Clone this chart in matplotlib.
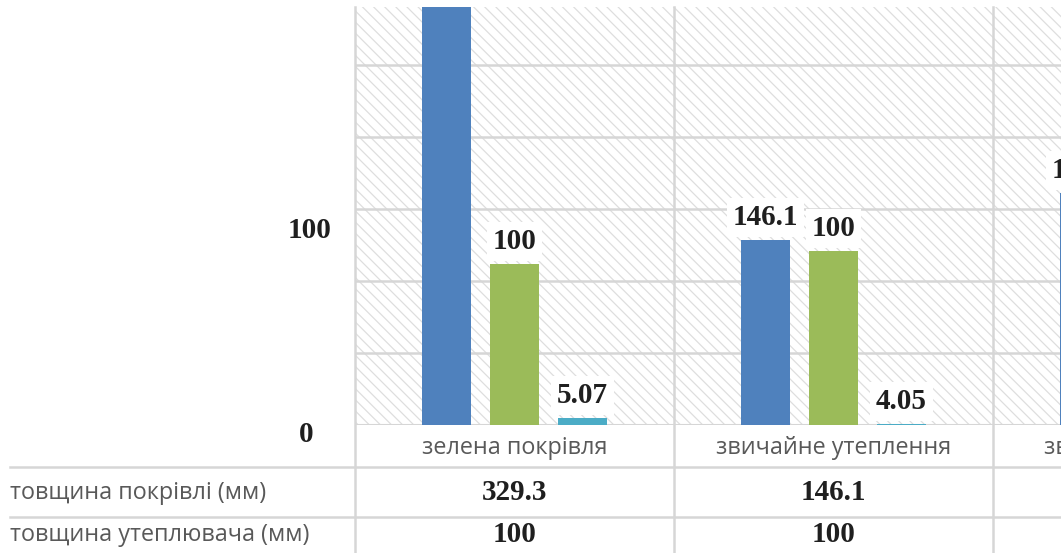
import numpy as np
import matplotlib
matplotlib.use("Agg")
import matplotlib.pyplot as plt
from matplotlib.patches import Rectangle
from matplotlib.lines import Line2D
import matplotlib.transforms as mtransforms

# ---- data ----
categories = ['зелена покрівля', 'звичайне утеплення', 'звичайна покрівля']
row_headers = ['товщина покрівлі (мм)', 'товщина утеплювача (мм)']

# data-label values shown on the chart / in the data table
roof_labels = ['329.3', '146.1', '161.3']
insul_labels = ['100', '100', '100']
third_labels = ['5.07', '4.05', '']

# bar heights as drawn against the (unlabelled) gridline scale
roof_bars = [329.3, 128.5, 161.0]
insul_bars = [112.0, 121.0, np.nan]
third_bars = [5.07, 1.0, np.nan]

ytick_text = ['100', '0']

colors = ['#4F81BD', '#9BBB59', '#4BACC6']

W, H = 1061, 553
fig = plt.figure(figsize=(W / 100, H / 100), dpi=100)
fig.patch.set_facecolor('white')

ax_l, ax_top, ax_bot = 355, 7, 425
ax_w = 957
ax = fig.add_axes([ax_l / W, (H - ax_bot) / H, ax_w / W, (ax_bot - ax_top) / H])
ax.set_xlim(-0.5, len(categories) - 0.5)
ax.set_ylim(0, 290)

plt.rcParams['hatch.linewidth'] = 0.9
plt.rcParams['hatch.color'] = '#dedede'
ax.patch.set_facecolor('white')
ax.add_patch(Rectangle((0, 0), 1, 1, transform=ax.transAxes, facecolor='white',
                       edgecolor='#dedede', hatch='\\\\\\', linewidth=0, zorder=0))

for s in ax.spines.values():
    s.set_visible(False)
ax.set_yticks([50, 100, 150, 200, 250])
ax.set_xticks([])
ax.tick_params(left=False, labelleft=False)
ax.set_axisbelow(True)
ax.yaxis.grid(True, color='#d6d6d6', linewidth=1.8)
ax.axhline(0, color='#d6d6d6', linewidth=2.2, zorder=1)

x = np.arange(len(categories))
step, bw = 0.213, 0.154
series = [(roof_bars, roof_labels), (insul_bars, insul_labels), (third_bars, third_labels)]
for i, (vals, labs) in enumerate(series):
    xs = x + (i - 1) * step
    ax.bar(xs, vals, width=bw, color=colors[i], zorder=2)
    for xi, v, lab in zip(xs, vals, labs):
        if np.isnan(v) or lab == '':
            continue
        ax.annotate(lab, (xi, v), xytext=(0, 16), textcoords='offset points',
                    ha='center', va='center', fontsize=21, fontweight='bold',
                    family='Liberation Serif', color='#1f1f1f', zorder=5,
                    bbox=dict(boxstyle='square,pad=0.2', facecolor='white', edgecolor='none'))

# vertical category boundaries, extended through the data table
blend = mtransforms.blended_transform_factory(ax.transData, ax.transAxes)
bottom_ax = (ax_bot - H) / (ax_bot - ax_top)
for b in np.arange(-0.5, len(categories) - 0.5, 1.0):
    ax.add_line(Line2D([b, b], [bottom_ax, 1], transform=blend, color='#d6d6d6',
                       linewidth=1.8, clip_on=False, zorder=1))

# y tick texts
fig.text(310 / W, 1 - 231 / H, ytick_text[0], ha='center', va='center', fontsize=21,
         fontweight='bold', family='Liberation Serif', color='#1f1f1f')
fig.text(306 / W, 1 - 435 / H, ytick_text[1], ha='center', va='center', fontsize=21,
         fontweight='bold', family='Liberation Serif', color='#1f1f1f')

# data table
def ay(py):
    return (ax_bot - py) / (ax_bot - ax_top)

for xi, c in zip(x, categories):
    ax.text(xi, ay(448), c, transform=blend, ha='center', va='center', fontsize=16.8,
            family='Open Sans', color='#595959', clip_on=False)

for py in (467, 517):
    fig.add_artist(Line2D([10 / W, 1], [1 - py / H, 1 - py / H], color='#d6d6d6', linewidth=1.8))

row_y = [493, 535]
for hdr, py in zip(row_headers, row_y):
    fig.text(10 / W, 1 - py / H, hdr, ha='left', va='center', fontsize=16.8,
             family='Open Sans', color='#595959')
for labs, py in zip([roof_labels, insul_labels], row_y):
    for xi, lab in zip(x, labs):
        ax.text(xi, ay(py), lab, transform=blend, ha='center', va='center', fontsize=21,
                fontweight='bold', family='Liberation Serif', color='#1f1f1f', clip_on=False)

fig.savefig('out.png', dpi=100, facecolor='white')
